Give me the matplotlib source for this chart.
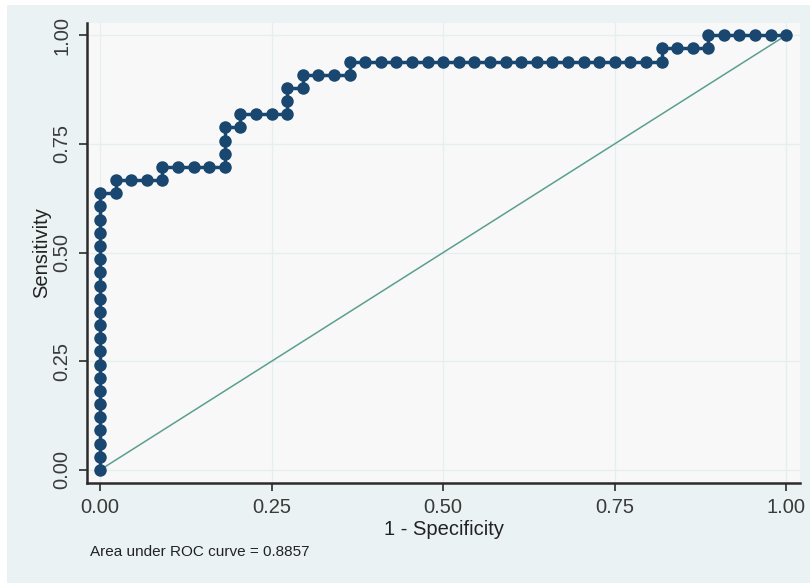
#-------------------------------------------------------------------------
# Imports
import matplotlib
matplotlib.use("Agg")

import matplotlib.pyplot  as plt
from   matplotlib.patches import Rectangle
import numpy              as np

#-------------------------------------------------------------------------



#-------------------------------------------------------------------------
# Data (counts: 44 negatives, 33 positives)

n_neg = 44
n_pos = 33

# cumulative false positives / true positives at every plotted point
fp_count = [0]*22 + [1, 1, 2, 3, 4, 4, 5, 6, 7, 8, 8, 8, 8, 9, 9, 10, 11, 12, 12, 12,
            13, 13, 14, 15, 16, 16,
            17, 18, 19, 20, 21, 22, 23, 24, 25, 26, 27, 28, 29, 30, 31, 32, 33, 34, 35, 36,
            36, 37, 38, 39, 39, 40, 41, 42, 43, 44]
tp_count = list(range(0, 22)) + [21, 22, 22, 22, 22, 23, 23, 23, 23, 23, 24, 25, 26, 26, 27, 27, 27, 27, 28, 29,
            29, 30, 30, 30, 30, 31,
            31, 31, 31, 31, 31, 31, 31, 31, 31, 31, 31, 31, 31, 31, 31, 31, 31, 31, 31, 31,
            32, 32, 32, 32, 33, 33, 33, 33, 33, 33]

auc_text = "Area under ROC curve = 0.8857"

xticks      = [0.0, 0.25, 0.5, 0.75, 1.0]
yticks      = [0.0, 0.25, 0.5, 0.75, 1.0]
tick_labels = ["0.00", "0.25", "0.50", "0.75", "1.00"]

#-------------------------------------------------------------------------



#-------------------------------------------------------------------------
# Plot Parameters

outer_bg   = "#eaf2f3"
plot_bg    = "#f8f8f8"
grid_color = "#e6eff0"
roc_color  = "#1a476f"
ref_color  = "#5a9f8f"
axis_color = "#2b2b2b"

plt.rcParams['font.family'] = ['Liberation Sans', 'DejaVu Sans']

fpr = np.array(fp_count) / n_neg
tpr = np.array(tp_count) / n_pos

#-------------------------------------------------------------------------



#-------------------------------------------------------------------------
# Plotting

fig = plt.figure(figsize=(8.1, 5.83), dpi=100)
fig.patch.set_facecolor("white")
fig.add_artist(Rectangle((7/810, 0.0), 803/810, 578/583, transform=fig.transFigure,
                         facecolor=outer_bg, edgecolor="none", zorder=-10))

ax = fig.add_axes([87/810, 100/583, 713/810, 460/583])
ax.set_zorder(1)
ax.set_facecolor(plot_bg)

ax.plot(fpr, tpr, color=roc_color, lw=2.5, marker="o", markersize=9,
        markeredgewidth=0, zorder=3, clip_on=False)
ax.plot([0, 1], [0, 1], color=ref_color, lw=1.1, zorder=2)

ax.set_xlim(-0.019, 1.020)
ax.set_ylim(-0.030, 1.028)

ax.set_xticks(xticks)
ax.set_xticklabels(tick_labels, fontsize=14.5, color="#3a3a3a")
ax.set_yticks(yticks)
ax.set_yticklabels(tick_labels, fontsize=14.5, color="#3a3a3a", rotation=90, va="center")

ax.tick_params(axis="both", direction="out", length=6, width=1.2, color=axis_color, pad=5)

ax.grid(True, color=grid_color, lw=0.9)
ax.set_axisbelow(True)

for side in ["top", "right"]:
    ax.spines[side].set_visible(False)
for side in ["left", "bottom"]:
    ax.spines[side].set_color(axis_color)
    ax.spines[side].set_linewidth(1.8)

ax.set_xlabel("1 - Specificity", fontsize=14.5, color="#222222", labelpad=2)
ax.set_ylabel("Sensitivity",     fontsize=14.5, color="#222222", labelpad=1)

fig.text(90/810, 1 - 552/583, auc_text, fontsize=11, color="#222222", va="center", ha="left")

#-------------------------------------------------------------------------



#-------------------------------------------------------------------------
# Saving Plot

fig.savefig("out.png", dpi=100, facecolor=fig.get_facecolor())

#-------------------------------------------------------------------------
